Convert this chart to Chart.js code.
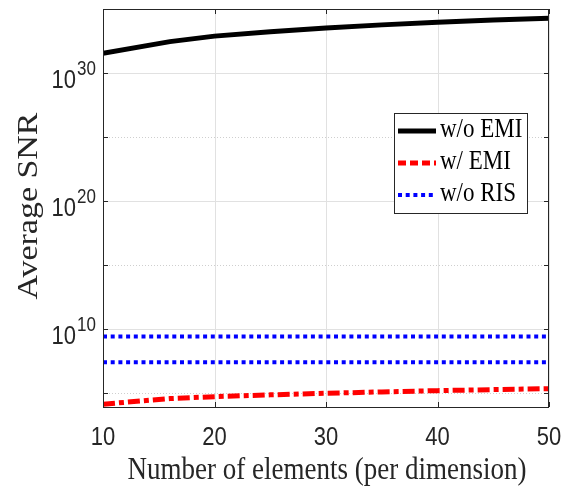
<!DOCTYPE html>
<html>
<head>
<meta charset="utf-8">
<script src="https://cdn.jsdelivr.net/npm/chart.js@4.4.0/dist/chart.umd.min.js"></script>
<style>
html,body{margin:0;padding:0;background:#fff;}
</style>
</head>
<body>
<canvas id="myChart" width="577" height="488"></canvas>
<script>
// values (log axis)
var elements=[10,16,20,25,30,35,40,45,50];
var snrNoEmi=[3.47e31,2.82e32,7.59e32,1.66e33,3.31e33,5.75e33,9.33e33,1.38e34,1.91e34];
var snrEmi=[1.32e4,3.63e4,5.13e4,7.08e4,9.33e4,1.20e5,1.51e5,1.82e5,2.14e5];
var snrNoRisHigh=[2.51e9,2.51e9,2.51e9,2.51e9,2.51e9,2.51e9,2.51e9,2.51e9,2.51e9];
var snrNoRisLow=[2.51e7,2.51e7,2.51e7,2.51e7,2.51e7,2.51e7,2.51e7,2.51e7,2.51e7];
var xTicks=[10,20,30,40,50];
var yMajor=[1e10,1e20,1e30];
var yMajorExp=["10","20","30"];
var yMinor=[1e5,1e15,1e25];
var legendLabels=["w/o EMI","w/ EMI","w/o RIS"];
var xTitle='Number of elements (per dimension)';
var yTitle='Average SNR';

var txt='#262626';

function pts(ys){
  return elements.map(function(x,i){return {x:x,y:ys[i]};});
}

var noEmi={label:legendLabels[0],data:pts(snrNoEmi),borderColor:'#000000',borderWidth:5,borderDash:[]};
var emi={label:legendLabels[1],data:pts(snrEmi),borderColor:'#ff0000',borderWidth:5,borderDash:[12,4,5,4]};
var noRis={label:legendLabels[2],data:pts(snrNoRisHigh),borderColor:'#0000ff',borderWidth:4,borderDash:[4,3.7]};
var noRis2={label:'',data:pts(snrNoRisLow),borderColor:'#0000ff',borderWidth:4,borderDash:[4,3.7]};

// grid, inward ticks, box, superscript labels and legend like a matlab figure
var matlabAxes={
  id:'matlabAxes',
  beforeDatasetsDraw:function(chart){
    var c=chart.ctx,a=chart.chartArea,xs=chart.scales.x,ys=chart.scales.y;
    c.save();
    c.lineWidth=1;
    c.strokeStyle='#e1e1e1';
    xTicks.forEach(function(v){
      var px=Math.round(xs.getPixelForValue(v))+0.5;
      c.beginPath();c.moveTo(px,a.top);c.lineTo(px,a.bottom);c.stroke();
    });
    yMajor.forEach(function(v){
      var py=Math.round(ys.getPixelForValue(v))+0.5;
      c.beginPath();c.moveTo(a.left,py);c.lineTo(a.right,py);c.stroke();
    });
    c.strokeStyle='#cfcfcf';
    c.setLineDash([1,2]);
    yMinor.forEach(function(v){
      var py=Math.round(ys.getPixelForValue(v))+0.5;
      c.beginPath();c.moveTo(a.left,py);c.lineTo(a.right,py);c.stroke();
    });
    c.restore();
  },
  afterDraw:function(chart){
    var c=chart.ctx,a=chart.chartArea,xs=chart.scales.x,ys=chart.scales.y;
    c.save();
    c.strokeStyle=txt;
    c.lineWidth=1;
    c.strokeRect(Math.round(a.left)+0.5,Math.round(a.top)+0.5,Math.round(a.right-a.left)-1,Math.round(a.bottom-a.top));
    var tl=5;
    xTicks.forEach(function(v){
      var px=Math.round(xs.getPixelForValue(v))+0.5;
      c.beginPath();
      c.moveTo(px,a.bottom);c.lineTo(px,a.bottom-tl);
      c.moveTo(px,a.top);c.lineTo(px,a.top+tl);
      c.stroke();
    });
    yMajor.concat(yMinor).forEach(function(v){
      var py=Math.round(ys.getPixelForValue(v))+0.5;
      c.beginPath();
      c.moveTo(a.left,py);c.lineTo(a.left+tl,py);
      c.moveTo(a.right,py);c.lineTo(a.right-tl,py);
      c.stroke();
    });

    // tick labels, slightly stretched vertically like the exported figure
    c.fillStyle=txt;
    c.textAlign='center';
    c.textBaseline='alphabetic';
    xTicks.forEach(function(v){
      var px=xs.getPixelForValue(v);
      c.save();
      c.translate(px,445);
      c.scale(1,1.2);
      c.font='22px "Liberation Sans"';
      c.fillText(String(v),0,0);
      c.restore();
    });
    yMajor.forEach(function(v,i){
      var py=ys.getPixelForValue(v);
      c.save();
      c.translate(96,py);
      c.scale(1,1.2);
      c.textAlign='right';
      c.font='17px "Liberation Sans"';
      var sw=c.measureText(yMajorExp[i]).width;
      c.fillText(yMajorExp[i],0,1.5);
      c.font='22px "Liberation Sans"';
      c.fillText('10',-sw-1,12.5);
      c.restore();
    });

    // axis titles
    c.save();
    c.translate((a.left+a.right)/2+1,479);
    c.scale(1,1.2);
    c.font='27px "Liberation Serif"';
    c.textAlign='center';
    c.fillText(xTitle,0,0);
    c.restore();
    c.save();
    c.translate(37,206);
    c.rotate(-Math.PI/2);
    c.font='29px "Liberation Serif"';
    var tw=c.measureText(yTitle).width;
    c.scale(187/tw,1);
    c.textAlign='center';
    c.fillText(yTitle,0,0);
    c.restore();

    // legend box
    var lx=394,ly=113,lw=133,lh=100;
    c.fillStyle='#ffffff';
    c.fillRect(lx,ly,lw,lh);
    c.strokeStyle=txt;
    c.strokeRect(lx+0.5,ly+0.5,lw,lh);
    var rows=[131,163,195];
    [noEmi,emi,noRis].forEach(function(ds,i){
      c.save();
      c.strokeStyle=ds.borderColor;
      c.lineWidth=ds.borderWidth;
      c.setLineDash(i==1?[8,4]:ds.borderDash);
      c.beginPath();c.moveTo(398,rows[i]);c.lineTo(436,rows[i]);c.stroke();
      c.restore();
      c.save();
      c.translate(440,rows[i]+6);
      c.scale(1,1.15);
      c.fillStyle='#000000';
      c.textAlign='left';
      c.font='23px "Liberation Serif"';
      c.fillText(ds.label,0,0);
      c.restore();
    });
    c.restore();
  }
};

var ctx=document.getElementById('myChart').getContext('2d');
var chart=new Chart(ctx,{
  type:'line',
  data:{datasets:[noEmi,emi,noRis,noRis2]},
  options:{
    responsive:false,
    animation:false,
    devicePixelRatio:1,
    layout:{padding:{top:9,right:28,left:0,bottom:0}},
    elements:{point:{radius:0},line:{tension:0,borderCapStyle:'butt'}},
    plugins:{legend:{display:false},tooltip:{enabled:false}},
    scales:{
      x:{
        type:'linear',min:10,max:50,
        grid:{display:false},border:{display:false},
        ticks:{display:false},
        afterFit:function(s){s.height=81;}
      },
      y:{
        type:'logarithmic',min:7943,max:1e35,
        grid:{display:false},border:{display:false},
        ticks:{display:false},
        afterFit:function(s){s.width=103;}
      }
    }
  },
  plugins:[matlabAxes]
});
</script>
</body>
</html>
